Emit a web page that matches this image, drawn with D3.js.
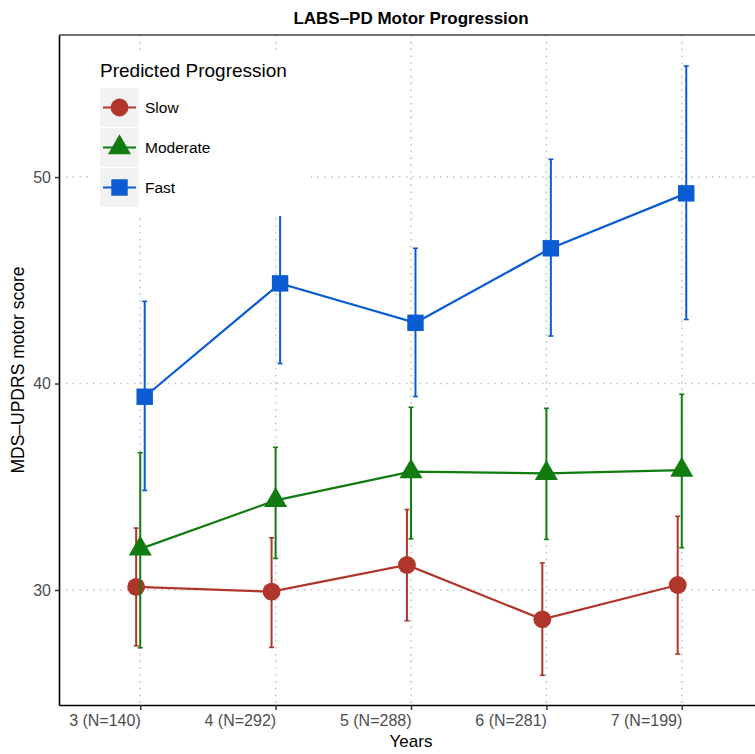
<!DOCTYPE html>
<html>
<head>
<meta charset="utf-8">
<script src="https://cdn.jsdelivr.net/npm/d3@7"></script>
<style>
  html, body { margin: 0; background: #fff; overflow: hidden; }
  svg { display: block; }
  text { font-family: "Liberation Sans", Arial, Helvetica, sans-serif; }
</style>
</head>
<body>
<div id="chart"></div>
<script>
// values
var years = ['3 (N=140)', '4 (N=292)', '5 (N=288)', '6 (N=281)', '7 (N=199)'];
var yTicks = [30, 40, 50];

var slowMean = [30.15, 29.92, 31.21, 28.58, 30.24];
var slowLo   = [27.30, 27.22, 28.51, 25.87, 26.90];
var slowHi   = [33.00, 32.53, 33.90, 31.31, 33.57];

var modMean = [31.99, 34.34, 35.73, 35.65, 35.81];
var modLo   = [27.20, 31.53, 32.48, 32.45, 32.05];
var modHi   = [36.65, 36.91, 38.85, 38.80, 39.48];

var fastMean = [39.36, 44.85, 42.94, 46.55, 49.21];
var fastLo   = [34.82, 40.97, 39.37, 42.30, 43.10];
var fastHi   = [43.98, 48.16, 46.55, 50.86, 55.38];

var groups = ['Slow', 'Moderate', 'Fast'];
var colors = ['#b0352a', '#107c10', '#0b5bd3'];
var shapes = [d3.symbolCircle, d3.symbolTriangle, d3.symbolSquare];
var shapeSize = [250, 230, 270];

var series = [
  {name: 'Slow', mean: slowMean, lo: slowLo, hi: slowHi},
  {name: 'Moderate', mean: modMean, lo: modLo, hi: modHi},
  {name: 'Fast', mean: fastMean, lo: fastLo, hi: fastHi}
];

var W = 755, H = 754;
var margin = {top: 35, right: -8, bottom: 49, left: 59},
    width = W - margin.left - margin.right,
    height = H - margin.top - margin.bottom;

var xScale = d3.scalePoint().domain(years).range([0, width]).padding(0.6);
var yScale = d3.scaleLinear().domain([24.43, 56.88]).range([height, 0]);
var colorScale = d3.scaleOrdinal().domain(groups).range(colors);
var shapeScale = d3.scaleOrdinal().domain(groups).range(shapes);
var dodge = d3.scaleOrdinal().domain(groups).range([-0.03, 0, 0.033]);

var svg = d3.select('#chart').append('svg')
    .attr('width', W)
    .attr('height', H);

var g = svg.append('g')
    .attr('transform', 'translate(' + margin.left + ',' + margin.top + ')');

// dotted grid
g.selectAll('.gx').data(years).join('line')
    .attr('x1', d => xScale(d)).attr('x2', d => xScale(d))
    .attr('y1', 0).attr('y2', height)
    .attr('stroke', '#c4c4c4').attr('stroke-width', 1.6)
    .attr('stroke-dasharray', '1.6,5.2');
g.selectAll('.gy').data(yTicks).join('line')
    .attr('x1', 0).attr('x2', width)
    .attr('y1', d => yScale(d)).attr('y2', d => yScale(d))
    .attr('stroke', '#c4c4c4').attr('stroke-width', 1.6)
    .attr('stroke-dasharray', '1.6,5.2');

var px = function(s, i) { return xScale(years[i]) + dodge(s.name) * xScale.step(); };

var lineGen = d3.line()
    .x(d => d.x)
    .y(d => yScale(d.v));

series.forEach(function(s) {
  var c = colorScale(s.name);
  var pts = s.mean.map((v, i) => ({x: px(s, i), v: v, lo: s.lo[i], hi: s.hi[i]}));
  var sg = g.append('g');
  // error bars
  sg.selectAll('.eb').data(pts).join('line')
      .attr('x1', d => d.x).attr('x2', d => d.x)
      .attr('y1', d => yScale(d.lo)).attr('y2', d => yScale(d.hi))
      .attr('stroke', c).attr('stroke-width', 2);
  sg.selectAll('.cap').data(pts.flatMap(d => [{x: d.x, v: d.lo}, {x: d.x, v: d.hi}])).join('line')
      .attr('x1', d => d.x - 2.5).attr('x2', d => d.x + 2.5)
      .attr('y1', d => yScale(d.v)).attr('y2', d => yScale(d.v))
      .attr('stroke', c).attr('stroke-width', 1.6);
  sg.append('path').datum(pts)
      .attr('d', lineGen)
      .attr('fill', 'none').attr('stroke', c).attr('stroke-width', 2.2);
  sg.selectAll('.pt').data(pts).join('path')
      .attr('transform', d => 'translate(' + d.x + ',' + yScale(d.v) + ')')
      .attr('d', d3.symbol().type(shapeScale(s.name)).size(shapeSize[groups.indexOf(s.name)]))
      .attr('fill', c);
});

// panel border (top) and axes
g.append('line').attr('x1', 0).attr('x2', width).attr('y1', 0).attr('y2', 0)
    .attr('stroke', '#444').attr('stroke-width', 1.5);

var xAxis = d3.axisBottom(xScale).tickSize(5).tickSizeOuter(0).tickPadding(5);
var yAxis = d3.axisLeft(yScale).tickValues(yTicks).tickSize(4).tickSizeOuter(0).tickPadding(4);

var xg = g.append('g').attr('transform', 'translate(0,' + height + ')').call(xAxis);
xg.select('.domain').attr('stroke', '#000').attr('stroke-width', 1.6);
xg.selectAll('.tick line').attr('stroke', '#333').attr('stroke-width', 1.5);
xg.selectAll('.tick text')
    .attr('text-anchor', 'end')
    .attr('fill', '#4d4d4d')
    .style('font-size', '16px');

var yg = g.append('g').call(yAxis);
yg.select('.domain').attr('stroke', '#000').attr('stroke-width', 1.6);
yg.selectAll('.tick line').attr('stroke', '#333').attr('stroke-width', 1.5);
yg.selectAll('.tick text')
    .attr('fill', '#4d4d4d')
    .style('font-size', '16px');

// titles
svg.append('text')
    .attr('x', margin.left + (W + 8 - margin.left) / 2)
    .attr('y', 24)
    .attr('text-anchor', 'middle')
    .style('font-size', '17px')
    .style('font-weight', 'bold')
    .text('LABS\u2013PD Motor Progression');
svg.append('text')
    .attr('x', margin.left + (W + 8 - margin.left) / 2)
    .attr('y', 747)
    .attr('text-anchor', 'middle')
    .style('font-size', '17px')
    .text('Years');
svg.append('text')
    .attr('transform', 'translate(24,' + (margin.top + height / 2) + ') rotate(-90)')
    .attr('text-anchor', 'middle')
    .style('font-size', '17.5px')
    .text('MDS\u2013UPDRS motor score');

// legend
var lg = svg.append('g').attr('transform', 'translate(100,50)');
lg.append('rect').attr('x', -9).attr('y', 0).attr('width', 215).attr('height', 166).attr('fill', '#fff');
lg.append('text').attr('x', 0).attr('y', 27).style('font-size', '19px').text('Predicted Progression');
groups.forEach(function(name, i) {
  var ky = 38 + i * 40;
  var k = lg.append('g').attr('transform', 'translate(0,' + ky + ')');
  k.append('rect').attr('width', 39).attr('height', 39).attr('fill', '#f2f2f2');
  k.append('line').attr('x1', 3).attr('x2', 36).attr('y1', 19.5).attr('y2', 19.5)
      .attr('stroke', colorScale(name)).attr('stroke-width', 2.2);
  k.append('path').attr('transform', 'translate(19.5,19.5)')
      .attr('d', d3.symbol().type(shapeScale(name)).size(shapeSize[i]))
      .attr('fill', colorScale(name));
  k.append('text').attr('x', 45).attr('y', 25).style('font-size', '15.5px').text(name);
});
</script>
</body>
</html>
